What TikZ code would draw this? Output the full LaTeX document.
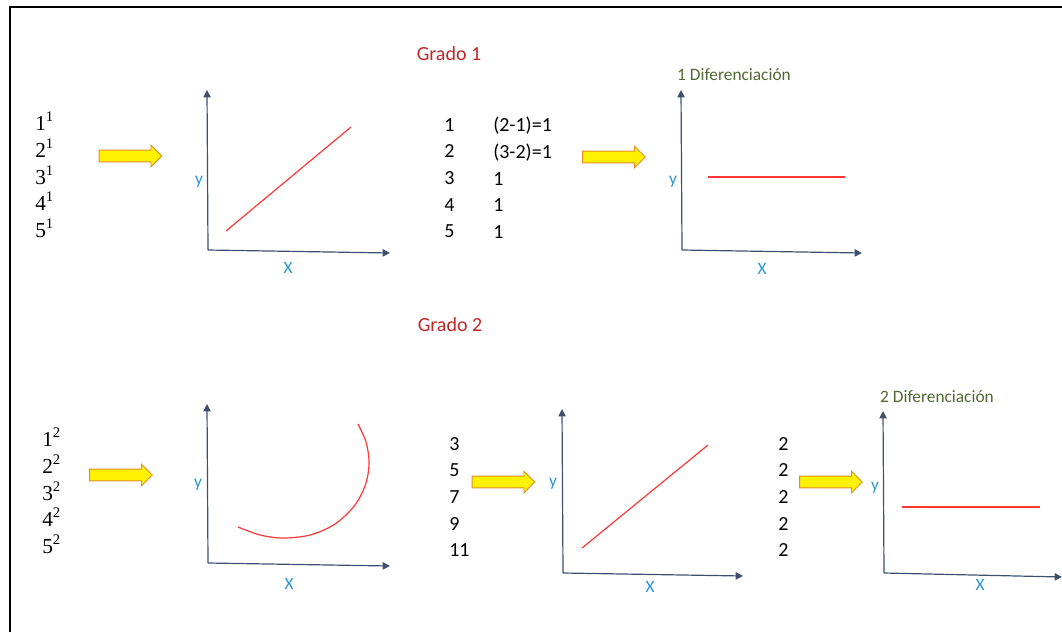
\documentclass[tikz,border=0pt]{standalone}
\usepackage{fontspec}
\setmainfont{Carlito}
\newfontfamily\powfont{Liberation Serif}
\usetikzlibrary{arrows.meta,shapes.arrows}
\definecolor{axisnavy}{RGB}{62,80,112}
\definecolor{lblblue}{RGB}{40,150,210}
\definecolor{gradored}{RGB}{192,40,40}
\definecolor{difgreen}{RGB}{80,105,50}
\definecolor{curvered}{RGB}{255,55,55}
\definecolor{arrowedge}{RGB}{228,140,40}
\newcommand{\pw}[2]{#1\raisebox{0.42em}{\fontsize{11}{11}\selectfont #2}}

\begin{document}
\begin{tikzpicture}[x=0.75pt,y=-0.75pt,
  axis/.style={-{Triangle[length=5.5pt,width=5.5pt]},line width=0.9pt,draw=axisnavy},
  graph/.style={draw=curvered,line width=0.9pt},
  yarrow/.style={single arrow,draw=arrowedge,fill=yellow,line width=0.6pt,
                 minimum height=47pt,inner xsep=0pt,inner ysep=4.1pt,
                 single arrow head extend=3.75pt},
  col/.style={font=\fontsize{15}{20}\selectfont,anchor=west,align=left,inner sep=0pt},
  powcol/.style={col,font=\fontsize{16}{20}\selectfont\powfont},
  grado/.style={font=\fontsize{15}{18}\selectfont,text=gradored},
  dif/.style={font=\fontsize{13}{15}\selectfont,text=difgreen},
  axl/.style={font=\fontsize{13}{15}\selectfont,text=lblblue,inner sep=0pt}
]
\useasboundingbox (0,0) rectangle (1062,632);
\coordinate (fb) at (10,632);
\coordinate (fc) at (10,7);
\coordinate (fr) at (1062,7);
\draw[line width=1.4pt] (fb) -- (fc) -- (fr);

% Grado 1
\node[grado] (g1) at (449,54) {Grado 1};
\node[powcol] (pw1) at (35,175) {\pw11\\\pw21\\\pw31\\\pw41\\\pw51};
\node[yarrow] (ar1) at (127.5,156) {};

\coordinate (o1) at (208,250);
\coordinate (y1) at (207,90);
\coordinate (x1) at (390,253);
\draw[axis] (o1) -- (y1);
\draw[axis] (o1) -- (x1);
\node[axl] (ly1) at (199,182) {y};
\node[axl] (lx1) at (288,268) {X};
\coordinate (r1a) at (226,231);
\coordinate (r1b) at (351,127);
\draw[graph] (r1a) -- (r1b);

\node[col] (n1) at (444,178) {1\\2\\3\\4\\5};
\node[col] (d1) at (493,178) {(2-1)=1\\(3-2)=1\\1\\1\\1};
\node[yarrow] (ar2) at (611,157) {};

\node[dif] (dif1) at (734,75) {1 Diferenciación};
\coordinate (o2) at (682,250);
\coordinate (y2) at (681,90);
\coordinate (x2) at (862,253);
\draw[axis] (o2) -- (y2);
\draw[axis] (o2) -- (x2);
\node[axl] (ly2) at (673,182) {y};
\node[axl] (lx2) at (762,269) {X};
\coordinate (r2a) at (708,177);
\coordinate (r2b) at (845,177);
\draw[graph] (r2a) -- (r2b);

% Grado 2
\node[grado] (g2) at (450,325) {Grado 2};
\node[powcol] (pw2) at (42,491) {\pw12\\\pw22\\\pw32\\\pw42\\\pw52};
\node[yarrow] (ar3) at (118,475) {};

\coordinate (o3) at (208,563);
\coordinate (y3) at (207,404);
\coordinate (x3) at (390,566);
\draw[axis] (o3) -- (y3);
\draw[axis] (o3) -- (x3);
\node[axl] (ly3) at (198,485) {y};
\node[axl] (lx3) at (289,584) {X};
\draw[graph] plot[smooth,tension=0.55] coordinates
  {(238,527) (260,535) (283,538) (310,535) (335,524) (355,505)
   (366,483) (369,462) (366,442) (358,424)};

\node[col] (n2) at (449,497) {3\\5\\7\\9\\11};
\node[yarrow] (ar4) at (500.5,482) {};

\coordinate (o4) at (563,573);
\coordinate (y4) at (562,409);
\coordinate (x4) at (743,576);
\draw[axis] (o4) -- (y4);
\draw[axis] (o4) -- (x4);
\node[axl] (ly4) at (553,484) {y};
\node[axl] (lx4) at (650,587) {X};
\coordinate (r4a) at (582,548);
\coordinate (r4b) at (708,445);
\draw[graph] (r4a) -- (r4b);

\node[col] (d2) at (778,497) {2\\2\\2\\2\\2};
\node[yarrow] (ar5) at (828,482) {};

\node[dif] (dif2) at (937,397) {2 Diferenciación};
\coordinate (o5) at (884,573);
\coordinate (y5) at (883,411);
\coordinate (x5) at (1062,577);
\draw[axis] (o5) -- (y5);
\draw[axis] (o5) -- (x5);
\node[axl] (ly5) at (875,488) {y};
\node[axl] (lx5) at (980,585) {X};
\coordinate (r5a) at (902,507);
\coordinate (r5b) at (1040,507);
\draw[graph] (r5a) -- (r5b);
\end{tikzpicture}
\end{document}
